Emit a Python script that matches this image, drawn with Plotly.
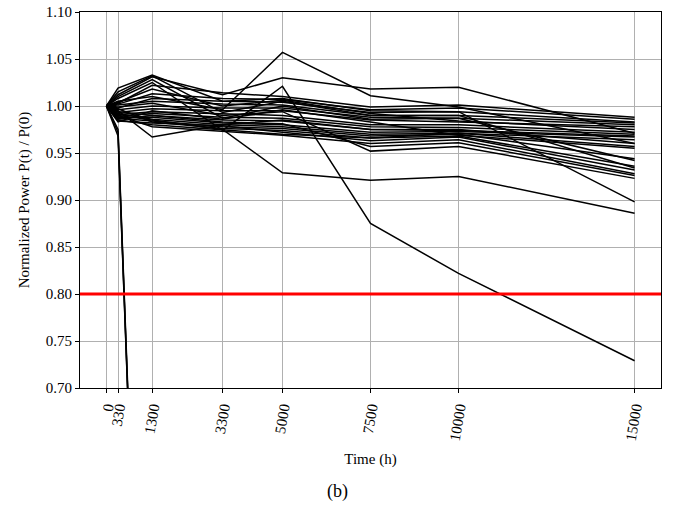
import plotly.graph_objects as go

time_h = [0, 330, 1300, 3300, 5000, 7500, 10000, 15000]
tick_labels = ["0", "330", "1300", "3300", "5000", "7500", "10000", "15000"]

# Normalized power P(t)/P(0) per module
modules = [
    [1.000, 1.012, 1.031, 1.012, 1.030, 1.018, 1.020, 0.971],
    [1.000, 1.005, 1.010, 0.996, 1.057, 1.011, 0.999, 0.960],
    [1.000, 1.008, 1.025, 0.974, 1.021, 0.875, 0.822, 0.729],
    [1.000, 0.990, 0.985, 0.975, 0.929, 0.921, 0.925, 0.886],
    [1.000, 1.019, 1.033, 1.005, 1.008, 0.995, 0.994, 0.898],
    [1.000, 1.015, 1.032, 0.993, 1.005, 0.990, 0.990, 0.934],
    [1.000, 1.010, 1.028, 0.987, 1.000, 0.986, 0.987, 0.942],
    [1.000, 0.995, 0.967, 0.980, 0.985, 0.975, 0.975, 0.960],
    [1.000, 0.985, 0.980, 0.975, 0.970, 0.966, 0.971, 0.957],
    [1.000, 1.003, 1.022, 1.014, 1.010, 0.999, 1.001, 0.988],
    [1.000, 1.002, 1.013, 1.008, 1.007, 0.996, 0.998, 0.986],
    [1.000, 0.998, 1.008, 1.005, 1.004, 0.993, 0.994, 0.983],
    [1.000, 1.001, 1.005, 1.002, 1.001, 0.990, 0.990, 0.982],
    [1.000, 0.996, 1.000, 0.998, 0.998, 0.988, 0.987, 0.980],
    [1.000, 0.993, 0.997, 0.995, 0.995, 0.985, 0.983, 0.978],
    [1.000, 0.991, 0.994, 0.992, 0.990, 0.980, 0.980, 0.972],
    [1.000, 0.989, 0.992, 0.988, 0.987, 0.978, 0.977, 0.970],
    [1.000, 0.994, 0.990, 0.985, 0.984, 0.975, 0.974, 0.968],
    [1.000, 0.988, 0.988, 0.982, 0.980, 0.972, 0.973, 0.967],
    [1.000, 0.992, 0.986, 0.980, 0.978, 0.970, 0.971, 0.964],
    [1.000, 0.987, 0.984, 0.978, 0.976, 0.968, 0.970, 0.944],
    [1.000, 0.997, 0.983, 0.976, 0.974, 0.966, 0.968, 0.936],
    [1.000, 0.984, 0.982, 0.979, 0.972, 0.963, 0.967, 0.932],
    [1.000, 0.990, 0.978, 0.973, 0.969, 0.960, 0.964, 0.928],
    [1.000, 0.986, 0.990, 0.983, 0.981, 0.957, 0.961, 0.926],
    [1.000, 0.999, 1.003, 0.990, 0.994, 0.952, 0.957, 0.923],
    [1.000, 0.983, 0.995, 0.986, 0.996, 0.983, 0.969, 0.955],
    [1.000, 1.004, 1.018, 1.000, 1.006, 0.992, 0.984, 0.975],
    # failed modules
    [1.000, 0.972, 0.000, 0.000, 0.000, 0.000, 0.000, 0.000],
    [1.000, 0.968, 0.005, 0.000, 0.000, 0.000, 0.000, 0.000],
    [1.000, 0.975, 0.010, 0.000, 0.000, 0.000, 0.000, 0.000],
]

threshold = 0.80
y_ticks = [0.70, 0.75, 0.80, 0.85, 0.90, 0.95, 1.00, 1.05, 1.10]

FONT = "Liberation Serif"

fig = go.Figure()
for vals in modules:
    fig.add_trace(go.Scatter(x=time_h, y=vals, mode="lines",
                             line=dict(color="black", width=1.5),
                             showlegend=False, hoverinfo="skip"))

fig.add_hline(y=threshold, line=dict(color="#ff0000", width=3))

fig.update_layout(
    width=675, height=508,
    margin=dict(l=80, r=14, t=12, b=120, autoexpand=False),
    paper_bgcolor="white", plot_bgcolor="white",
    font=dict(family=FONT, size=15, color="black"),
    showlegend=False,
)
fig.update_xaxes(
    range=[-750, 15750], automargin=False,
    tickmode="array", tickvals=time_h, ticktext=tick_labels,
    tickangle=-80,
    tickfont=dict(family=FONT, size=15),
    showgrid=True, gridcolor="#b0b0b0", gridwidth=1,
    showline=True, linecolor="black", linewidth=1.2, mirror=True,
    ticks="outside", ticklen=4, tickcolor="black",
    zeroline=False,
    title=dict(text="Time (h)", font=dict(family=FONT, size=15), standoff=12),
)
fig.update_yaxes(
    range=[0.70, 1.10], automargin=False,
    tickmode="array", tickvals=y_ticks,
    ticktext=[f"{v:.2f}" for v in y_ticks],
    tickfont=dict(family=FONT, size=15),
    showgrid=True, gridcolor="#b0b0b0", gridwidth=1,
    showline=True, linecolor="black", linewidth=1.2, mirror=True,
    ticks="outside", ticklen=4, tickcolor="black",
    zeroline=False,
    title=dict(text="Normalized Power P(t) / P(0)", font=dict(family=FONT, size=15), standoff=12),
)
fig.add_annotation(text="(b)", xref="paper", yref="paper", x=0.443, y=-0.275,
                   showarrow=False, font=dict(family=FONT, size=18), xanchor="center", yanchor="middle")

fig.write_html("out.html")
